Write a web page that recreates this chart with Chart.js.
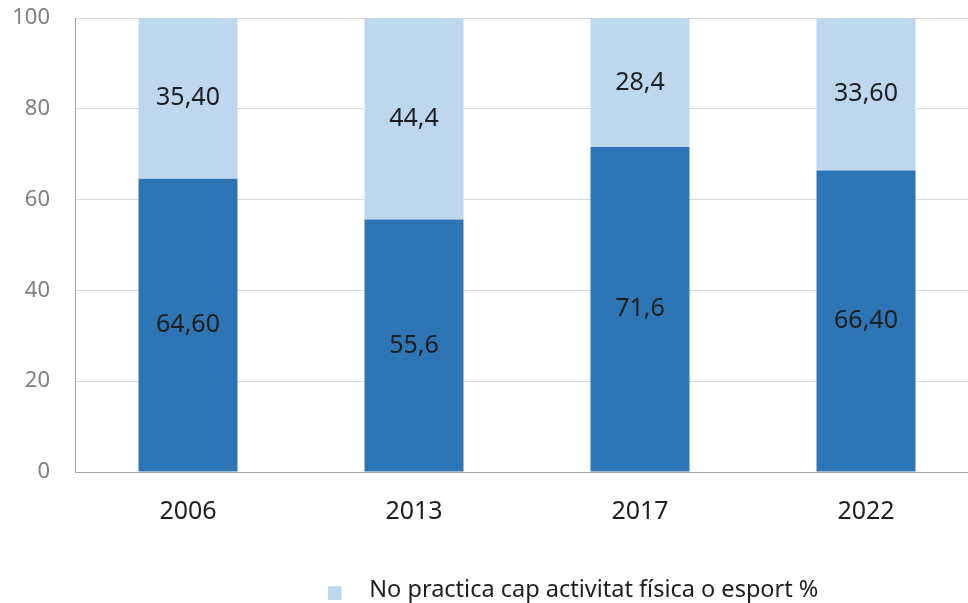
<!DOCTYPE html>
<html>
<head>
<meta charset="utf-8">
<script src="https://cdn.jsdelivr.net/npm/chart.js@4/dist/chart.umd.min.js"></script>
<style>
  body { margin: 0; overflow: hidden; background: #fff; }
  #wrap { width: 979px; height: 612px; }
</style>
</head>
<body>
<div id="wrap"><canvas id="sportChart"></canvas></div>
<script>
// Data
const years = ['2006', '2013', '2017', '2022'];
const practica = [64.6, 55.6, 71.6, 66.4];
const noPractica = [35.4, 44.4, 28.4, 33.6];
const practicaText = ['64,60', '55,6', '71,6', '66,40']; // labels as printed on the bars
const noPracticaText = ['35,40', '44,4', '28,4', '33,60'];
const yTicks = [0, 20, 40, 60, 80, 100];

const fontFamily = "'Noto Sans', sans-serif";

// legend swatch: small square with some empty room after it
const swatch = document.createElement('canvas');
swatch.width = 30;
swatch.height = 20;
const swCtx = swatch.getContext('2d');
swCtx.fillStyle = '#BDD7EE';
swCtx.fillRect(0, 6, 14, 14);

// draws the value in the middle of each bar segment
const barValues = {
  id: 'barValues',
  afterDatasetsDraw(chart) {
    const ctx = chart.ctx;
    const texts = [practicaText, noPracticaText];
    ctx.save();
    ctx.font = '25px ' + fontFamily;
    ctx.fillStyle = '#1e1e1e';
    ctx.textAlign = 'center';
    ctx.textBaseline = 'middle';
    chart.data.datasets.forEach((ds, i) => {
      chart.getDatasetMeta(i).data.forEach((bar, j) => {
        ctx.fillText(texts[i][j], bar.x, (bar.y + bar.base) / 2);
      });
    });
    ctx.restore();
  }
};

// legend sits right of centre in the original
const legendShift = {
  id: 'legendShift',
  afterLayout(chart) {
    const l = chart.legend;
    const w = l.right - l.left;
    l.left = 300;
    l.right = 300 + w;
  }
};

const sportChart = new Chart(document.getElementById('sportChart'), {
  type: 'bar',
  data: {
    labels: years,
    datasets: [
      {
        label: 'Practica activitat física o esport %',
        data: practica,
        backgroundColor: '#2E75B6',
        borderWidth: 0,
        barPercentage: 0.438,
        categoryPercentage: 1
      },
      {
        label: 'No practica cap activitat física o esport %',
        data: noPractica,
        backgroundColor: '#BDD7EE',
        borderWidth: 0,
        barPercentage: 0.438,
        categoryPercentage: 1
      }
    ]
  },
  options: {
    responsive: true,
    maintainAspectRatio: false,
    animation: false,
    layout: { padding: { top: 18, right: 0, left: 0, bottom: 0 } },
    plugins: {
      tooltip: { enabled: false },
      legend: {
        position: 'bottom',
        align: 'start',
        labels: {
          usePointStyle: true,
          pointStyle: swatch,
          pointStyleWidth: 30,
          padding: 27.5,
          color: '#1e1e1e',
          font: { family: fontFamily, size: 23.5 },
          filter: item => item.datasetIndex === 1 // only this entry shows
        }
      }
    },
    scales: {
      x: {
        stacked: true,
        grid: { display: false, drawTicks: false },
        border: { display: true, color: '#A6A6A6', width: 1 },
        ticks: {
          padding: 24.5,
          color: '#1e1e1e',
          font: { family: fontFamily, size: 25 }
        }
      },
      y: {
        stacked: true,
        min: 0,
        max: 100,
        afterBuildTicks: axis => { axis.ticks = yTicks.map(v => ({ value: v })); },
        afterFit: axis => { // fixed axis width, no extra room above the top tick
          axis.width = 75;
          axis.paddingTop = 0;
          axis.paddingBottom = 0;
        },
        grid: { color: '#D9D9D9', drawTicks: false },
        border: { display: true, color: '#A6A6A6', width: 1 },
        ticks: {
          padding: 25,
          color: '#7F7F7F',
          font: { family: fontFamily, size: 22 }
        }
      }
    }
  },
  plugins: [barValues, legendShift]
});
</script>
</body>
</html>
